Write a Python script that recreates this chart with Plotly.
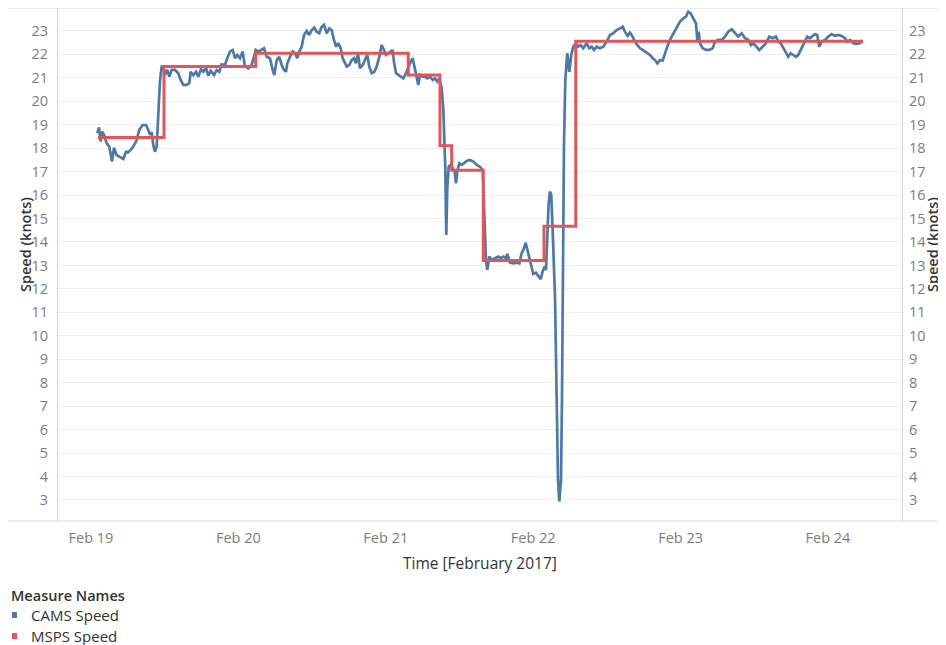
"""CAMS vs MSPS speed, Feb 19-24 2017 (Tableau-style dual axis line chart)."""

import pandas as pd
import plotly.graph_objects as go

BASE = pd.Timestamp("2017-02-19 00:00")

# hours after Feb 19 00:00
cams_hours = [
    1.03, 1.30, 1.58, 1.84, 2.12, 2.56, 2.98, 3.42, 3.74, 4.18,
    4.61, 5.00, 5.26, 5.70, 6.07, 6.46, 6.89, 7.44, 7.86, 8.42,
    8.96, 9.33, 9.61, 9.88, 10.14, 10.42, 10.70, 10.96, 11.23, 11.51,
    11.77, 12.05, 12.42, 12.75, 13.14, 13.68, 14.21, 14.60, 15.03, 15.58,
    16.01, 16.23, 16.66, 17.10, 17.47, 17.91, 18.28, 18.72, 19.10, 19.49,
    20.03, 20.47, 20.89, 21.28, 21.82, 22.19, 22.63, 23.07, 23.45, 23.82,
    24.26, 24.70, 25.07, 25.61, 26.16, 26.54, 26.82, 27.24, 27.79, 28.17,
    28.61, 29.14, 29.58, 29.84, 30.24, 30.66, 31.05, 31.42, 31.75, 31.96,
    32.40, 32.84, 33.22, 33.59, 33.92, 34.31, 34.68, 35.12, 35.54, 35.93,
    36.36, 36.75, 37.17, 37.56, 37.94, 38.38, 38.80, 39.19, 39.56, 39.89,
    40.26, 40.66, 40.98, 41.36, 41.63, 42.06, 42.45, 42.82, 43.15, 43.47,
    43.80, 44.24, 44.61, 44.99, 45.31, 45.70, 46.13, 46.52, 46.94, 47.33,
    47.71, 48.03, 48.41, 48.80, 49.12, 49.33, 49.66, 50.10, 50.43, 50.85,
    51.29, 51.66, 52.05, 52.38, 52.75, 53.03, 53.29, 53.57, 54.01, 54.38,
    54.76, 55.20, 55.64, 56.01, 56.38, 56.71, 57.10, 57.36, 57.52, 57.69,
    57.80, 57.85, 58.01, 58.24, 58.57, 58.89, 59.22, 59.43, 59.64, 59.97,
    60.36, 60.73, 61.17, 61.71, 62.25, 62.80, 63.34, 63.78, 63.99, 64.15,
    64.31, 64.52, 64.85, 65.24, 65.78, 66.32, 66.71, 67.13, 67.57, 67.78,
    68.22, 68.76, 69.31, 69.74, 70.13, 70.50, 70.78, 71.04, 71.36, 71.64,
    72.01, 72.45, 72.83, 73.22, 73.54, 73.87, 74.08, 74.29, 74.52, 74.73,
    74.94, 75.17, 75.55, 75.82, 76.04, 76.25, 76.53, 76.69, 76.85, 77.01,
    77.23, 77.55, 77.88, 78.20, 78.53, 78.97, 79.34, 79.73, 80.16, 80.71,
    81.13, 81.52, 81.90, 82.34, 82.87, 83.41, 83.96, 84.50, 85.04, 85.59,
    86.13, 86.57, 86.94, 87.38, 87.76, 88.20, 88.57, 88.95, 89.39, 89.83,
    90.20, 90.64, 91.02, 91.46, 91.83, 92.20, 92.64, 93.08, 93.46, 93.83,
    94.27, 94.81, 95.36, 95.90, 96.44, 96.88, 97.25, 97.64, 98.07, 98.50,
    98.72, 98.94, 99.16, 99.60, 100.13, 100.67, 101.22, 101.60, 102.14, 102.69,
    103.23, 103.76, 104.32, 104.85, 105.39, 105.95, 106.48, 107.02, 107.46, 107.83,
    108.27, 108.81, 109.37, 109.90, 110.44, 110.99, 111.53, 111.90, 112.29, 112.72,
    113.16, 113.53, 113.92, 114.35, 114.78, 115.16, 115.55, 115.87, 116.25, 116.62,
    117.06, 117.50, 117.88, 118.25, 118.58, 118.97, 119.51, 120.05, 120.60, 121.14,
    121.67, 122.23, 122.76, 123.14, 123.58, 124.11, 124.67, 125.20, 125.64,
]

cams_speed = [
    18.64, 18.89, 18.28, 18.71, 18.57, 18.21, 18.07, 17.43, 18.02, 17.71,
    17.64, 17.57, 17.54, 17.85, 17.83, 17.93, 18.07, 18.35, 18.78, 18.99,
    18.99, 18.78, 18.57, 18.68, 18.14, 17.85, 18.07, 19.42, 20.84, 21.48,
    21.48, 21.12, 21.34, 21.05, 21.34, 21.34, 21.20, 20.91, 20.70, 20.70,
    20.77, 21.26, 21.12, 21.26, 21.05, 21.37, 21.26, 21.44, 21.09, 21.30,
    21.12, 21.34, 21.26, 21.58, 21.55, 21.84, 22.12, 22.19, 21.84, 21.98,
    21.84, 22.12, 21.48, 21.41, 21.55, 21.90, 22.19, 22.12, 22.19, 22.26,
    21.90, 21.84, 21.34, 21.12, 21.76, 21.90, 21.55, 21.34, 21.26, 21.62,
    21.90, 22.12, 22.05, 21.84, 22.12, 22.33, 22.83, 23.00, 22.83, 23.04,
    23.14, 22.97, 22.90, 23.18, 23.26, 22.90, 23.11, 23.04, 22.62, 22.33,
    22.48, 22.26, 21.84, 21.62, 21.48, 21.55, 21.76, 21.84, 21.62, 22.05,
    21.41, 21.55, 21.76, 21.98, 21.48, 21.20, 21.26, 21.48, 21.90, 22.40,
    22.19, 21.98, 22.05, 22.12, 22.19, 21.69, 21.20, 21.12, 21.05, 20.98,
    21.20, 21.48, 21.69, 21.84, 21.41, 21.05, 20.70, 21.12, 21.05, 21.05,
    20.98, 21.05, 20.91, 20.98, 20.84, 20.98, 20.56, 19.70, 18.71, 17.15,
    15.15, 14.30, 16.29, 17.21, 17.29, 17.15, 17.00, 16.50, 17.00, 17.36,
    17.29, 17.36, 17.46, 17.50, 17.43, 17.29, 17.21, 17.07, 15.65, 14.09,
    13.23, 12.81, 13.38, 13.23, 13.31, 13.38, 13.31, 13.38, 13.31, 13.49,
    13.12, 13.09, 13.12, 13.09, 13.52, 13.73, 13.97, 13.66, 13.38, 12.95,
    12.64, 12.69, 12.55, 12.41, 12.74, 12.95, 12.81, 14.23, 15.65, 16.15,
    16.01, 14.51, 11.67, 7.40, 3.85, 2.93, 3.85, 7.40, 13.09, 18.07,
    20.91, 22.05, 21.26, 21.98, 22.33, 22.48, 22.33, 22.40, 22.26, 22.48,
    22.26, 22.33, 22.19, 22.33, 22.26, 22.33, 22.54, 22.83, 22.90, 23.04,
    23.11, 23.18, 22.97, 22.79, 22.93, 22.76, 22.54, 22.40, 22.26, 22.19,
    22.12, 22.05, 21.98, 21.84, 21.76, 21.62, 21.76, 21.73, 22.05, 22.33,
    22.62, 22.90, 23.18, 23.40, 23.54, 23.61, 23.82, 23.75, 23.54, 23.33,
    22.62, 22.97, 22.48, 22.26, 22.19, 22.19, 22.26, 22.54, 22.62, 22.62,
    22.76, 22.97, 23.07, 22.90, 22.76, 22.90, 22.69, 22.62, 22.40, 22.48,
    22.33, 22.19, 22.33, 22.48, 22.76, 22.69, 22.76, 22.54, 22.48, 22.26,
    22.05, 21.90, 22.05, 21.98, 21.90, 21.98, 22.19, 22.40, 22.54, 22.76,
    22.69, 22.79, 22.87, 22.83, 22.33, 22.54, 22.62, 22.76, 22.87, 22.79,
    22.83, 22.79, 22.69, 22.54, 22.62, 22.48, 22.45, 22.48, 22.59,
]

# MSPS is a step series: value holds until the next time
msps_hours = [1.14, 11.89, 26.82, 51.66, 56.82, 58.73, 63.87, 73.76, 78.93, 125.70]
msps_speed = [18.46, 21.48, 22.05, 21.12, 18.10, 17.06, 13.21, 14.67, 22.56, 22.56]

tick_days = ["2017-02-19", "2017-02-20", "2017-02-21", "2017-02-22", "2017-02-23", "2017-02-24"]
tick_labels = ["Feb 19", "Feb 20", "Feb 21", "Feb 22", "Feb 23", "Feb 24"]
y_ticks = list(range(3, 24))

BLUE = "#4e79a7"
RED = "#e15759"
FONT = "Open Sans"

# the page body has an 8px margin, so the figure is sized to sit inside it
OFF = 8
W, H = 946 - OFF, 645 - OFF
L, R, T, B = 50, 44, 0, 124
PW, PH = W - L - R, H - T - B


def px_x(page_px):
    return (page_px - OFF - L) / PW


def px_y(page_py):
    return (H - B - (page_py - OFF)) / PH


cams_time = BASE + pd.to_timedelta(cams_hours, unit="h")
msps_time = BASE + pd.to_timedelta(msps_hours, unit="h")

fig = go.Figure()

fig.add_trace(
    go.Scatter(
        x=cams_time,
        y=cams_speed,
        mode="lines",
        line=dict(color=BLUE, width=2.7),
        name="CAMS Speed",
        showlegend=False,
    )
)

fig.add_trace(
    go.Scatter(
        x=msps_time,
        y=msps_speed,
        mode="lines",
        line=dict(color=RED, width=3, shape="hv"),
        name="MSPS Speed",
        yaxis="y2",
        showlegend=False,
    )
)

y_range = [2.1, 23.98]
tick_font = dict(family=FONT, size=14.5, color="#7d7d7d")

fig.update_layout(
    width=W,
    height=H,
    margin=dict(l=L, r=R, t=T, b=B),
    plot_bgcolor="white",
    paper_bgcolor="white",
    xaxis=dict(
        range=[BASE + pd.Timedelta(hours=-5.37), BASE + pd.Timedelta(hours=132.05)],
        tickvals=pd.to_datetime(tick_days),
        ticktext=tick_labels,
        showgrid=False,
        zeroline=False,
        showline=False,
        ticks="",
        ticklabelstandoff=6,
        tickfont=tick_font,
    ),
    yaxis=dict(
        range=y_range,
        tickvals=y_ticks,
        showgrid=True,
        gridcolor="#efefef",
        gridwidth=1,
        zeroline=False,
        showline=True,
        linecolor="#d4d4d4",
        linewidth=1,
        ticks="",
        ticklabelstandoff=6,
        tickfont=tick_font,
    ),
    yaxis2=dict(
        range=y_range,
        tickvals=y_ticks,
        overlaying="y",
        side="right",
        showgrid=False,
        zeroline=False,
        showline=True,
        linecolor="#d4d4d4",
        linewidth=1,
        ticks="",
        ticklabelstandoff=3,
        tickfont=tick_font,
    ),
    showlegend=False,
)

# pane borders across the whole width, as Tableau draws them
for yy in (0, 1):
    fig.add_shape(
        type="line", xref="paper", yref="paper",
        x0=px_x(4), x1=px_x(946), y0=yy, y1=yy,
        line=dict(color="#d9d9d9", width=1),
    )

dark = "#333333"
fig.add_annotation(
    text="Time [February 2017]", xref="paper", yref="paper",
    x=0.5, y=px_y(563), xanchor="center", yanchor="middle",
    showarrow=False, font=dict(family=FONT, size=15.5, color=dark),
)
for xpx in (25, 932):
    fig.add_annotation(
        text="Speed (knots)", xref="paper", yref="paper",
        x=px_x(xpx), y=px_y(245), xanchor="center", yanchor="middle",
        textangle=-90, showarrow=False,
        font=dict(family=FONT, size=14.5, color=dark, weight=600),
    )

# legend block
fig.add_annotation(
    text="Measure Names", xref="paper", yref="paper",
    x=px_x(9), y=px_y(595), xanchor="left", yanchor="middle",
    showarrow=False, font=dict(family=FONT, size=14.5, color=dark, weight=600),
)
for name, color, ypx in (("CAMS Speed", BLUE, 615), ("MSPS Speed", RED, 636)):
    fig.add_shape(
        type="rect", xref="paper", yref="paper",
        x0=px_x(12), x1=px_x(17), y0=px_y(ypx - 3), y1=px_y(ypx + 3),
        fillcolor=color, line=dict(width=0),
    )
    fig.add_annotation(
        text=name, xref="paper", yref="paper",
        x=px_x(29), y=px_y(ypx), xanchor="left", yanchor="middle",
        showarrow=False, font=dict(family=FONT, size=15, color=dark),
    )

fig.write_html("out.html")
